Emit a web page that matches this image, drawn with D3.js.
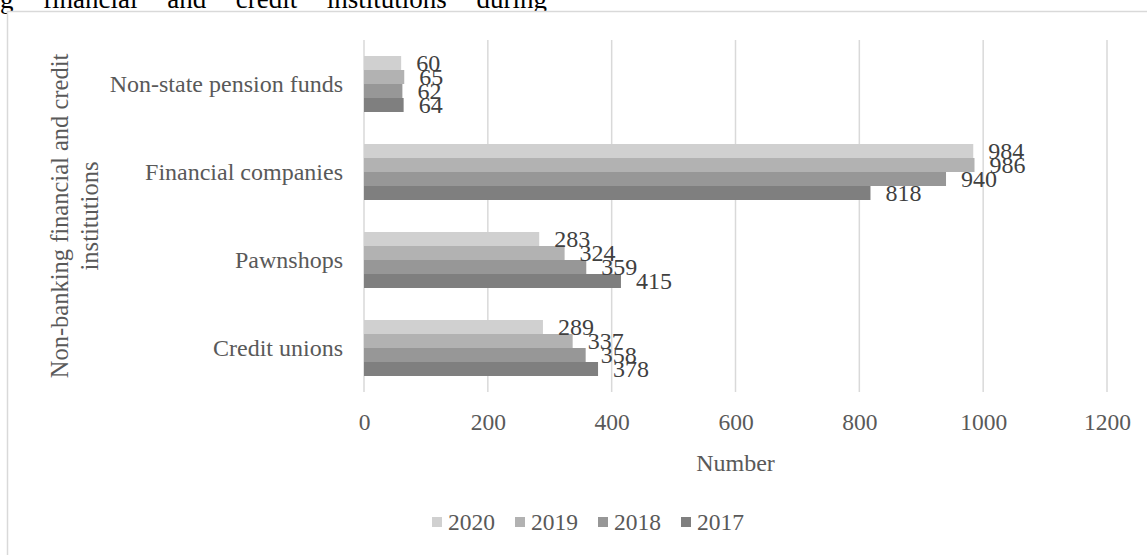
<!DOCTYPE html>
<html>
<head>
<meta charset="utf-8">
<script src="https://cdn.jsdelivr.net/npm/d3@7/dist/d3.min.js"></script>
<style>
  html, body { margin: 0; padding: 0; background: #fff; }
  svg { display: block; font-family: "Liberation Serif", "Times New Roman", serif; }
</style>
</head>
<body>
<svg id="chart" width="1147" height="555"></svg>
<script>
// Institution types, top to bottom
const categories = ["Non-state pension funds", "Financial companies", "Pawnshops", "Credit unions"];
// Years, in legend / bar order within each group
const years = ["2020", "2019", "2018", "2017"];
// Number of institutions per year, aligned with categories
const values2020 = [60, 984, 283, 289];
const values2019 = [65, 986, 324, 337];
const values2018 = [62, 940, 359, 358];
const values2017 = [64, 818, 415, 378];
const xTicks = [0, 200, 400, 600, 800, 1000, 1200];
const captionWords = ["g", "financial", "and", "credit", "institutions", "during"];

const seriesValues = { "2020": values2020, "2019": values2019, "2018": values2018, "2017": values2017 };
const colors = { "2020": "#d0d0d0", "2019": "#b2b2b2", "2018": "#979797", "2017": "#7f7f7f" };

const svg = d3.select("#chart");

// Caption line above the chart frame (continued from the previous line),
// justified: words spread evenly between the left edge and lineEnd
const lineEnd = 547;
const caption = svg.append("text")
  .attr("y", 8)
  .attr("font-size", 27)
  .attr("fill", "#000");
const words = caption.selectAll("tspan")
  .data(captionWords)
  .join("tspan")
  .text(d => d);
const widths = words.nodes().map(n => n.getComputedTextLength());
const gap = (lineEnd - d3.sum(widths)) / (captionWords.length - 1);
let cursor = 0;
words.attr("x", (d, i) => { const p = cursor; cursor += widths[i] + gap; return p; });

// Chart frame
svg.append("rect")
  .attr("x", 7.5).attr("y", 11.5)
  .attr("width", 1160).attr("height", 600)
  .attr("fill", "#fff")
  .attr("stroke", "#d9d9d9")
  .attr("stroke-width", 1.5);

const plot = { left: 364, right: 1107, top: 40, bottom: 392 };

const x = d3.scaleLinear().domain([0, 1200]).range([plot.left, plot.right]);
const y = d3.scaleBand().domain(categories).range([plot.top, plot.bottom])
  .paddingInner(32 / 88).paddingOuter(16 / 88);
const yInner = d3.scaleBand().domain(years).range([0, y.bandwidth()]);

// Vertical gridlines
svg.append("g")
  .selectAll("line")
  .data(xTicks)
  .join("line")
  .attr("x1", d => x(d)).attr("x2", d => x(d))
  .attr("y1", plot.top).attr("y2", plot.bottom)
  .attr("stroke", "#d9d9d9")
  .attr("stroke-width", 1.5);

// X axis tick labels
const xAxis = d3.axisBottom(x).tickValues(xTicks).tickSize(0).tickPadding(0).tickFormat(d3.format("d"));
const gx = svg.append("g").attr("transform", `translate(0, ${422})`).call(xAxis);
gx.select(".domain").remove();
gx.selectAll("text")
  .attr("y", 0).attr("dy", "0.35em")
  .attr("font-size", 23.5)
  .attr("font-family", "Liberation Serif, serif")
  .attr("fill", "#595959");

// Category labels
const yAxis = d3.axisLeft(y).tickSize(0).tickPadding(0);
const gy = svg.append("g").attr("transform", `translate(${343}, 0)`).call(yAxis);
gy.select(".domain").remove();
gy.selectAll("text")
  .attr("x", 0)
  .attr("font-size", 24)
  .attr("font-family", "Liberation Serif, serif")
  .attr("fill", "#595959");

// Bars
const rows = [];
categories.forEach((c, i) => {
  years.forEach(yr => rows.push({ category: c, year: yr, value: seriesValues[yr][i] }));
});

svg.append("g")
  .selectAll("rect")
  .data(rows)
  .join("rect")
  .attr("x", x(0))
  .attr("y", d => y(d.category) + yInner(d.year))
  .attr("width", d => x(d.value) - x(0))
  .attr("height", yInner.bandwidth())
  .attr("fill", d => colors[d.year]);

// Value labels at bar ends
svg.append("g")
  .selectAll("text")
  .data(rows)
  .join("text")
  .attr("x", d => x(d.value) + 15)
  .attr("y", d => y(d.category) + yInner(d.year) + yInner.bandwidth() / 2)
  .attr("dy", "0.35em")
  .attr("font-size", 24)
  .attr("fill", "#404040")
  .text(d => d.value);

// Axis titles
svg.append("text")
  .attr("x", (plot.left + plot.right) / 2)
  .attr("y", 463)
  .attr("dy", "0.35em")
  .attr("text-anchor", "middle")
  .attr("font-size", 24)
  .attr("fill", "#595959")
  .text("Number");

const yTitle = svg.append("text")
  .attr("transform", `translate(59, ${(plot.top + plot.bottom) / 2}) rotate(-90)`)
  .attr("text-anchor", "middle")
  .attr("font-size", 24.5)
  .attr("fill", "#595959");
yTitle.append("tspan").attr("x", 0).attr("dy", "0.35em").text("Non-banking financial and credit");
yTitle.append("tspan").attr("x", 0).attr("dy", 30).text("institutions");

// Legend
const legend = svg.append("g")
  .selectAll("g")
  .data(years)
  .join("g")
  .attr("transform", (d, i) => `translate(${432 + i * 83}, 522)`);
legend.append("rect")
  .attr("x", 0).attr("y", -5)
  .attr("width", 10).attr("height", 10)
  .attr("fill", d => colors[d]);
legend.append("text")
  .attr("x", 16)
  .attr("dy", "0.35em")
  .attr("font-size", 23.5)
  .attr("fill", "#595959")
  .text(d => d);
</script>
</body>
</html>
